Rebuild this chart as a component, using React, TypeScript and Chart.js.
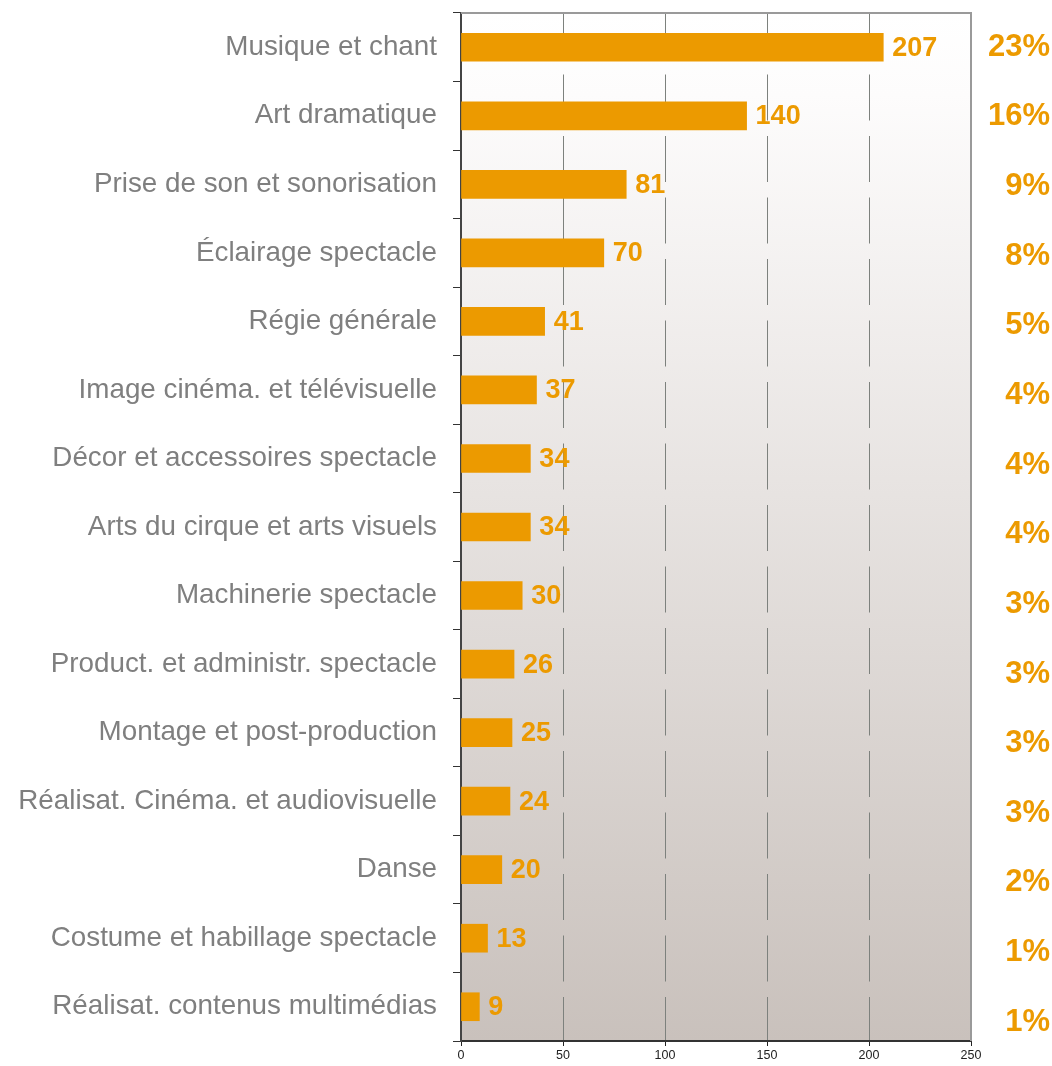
import React, { useEffect, useRef } from "react";
import { Chart, registerables } from "chart.js";

Chart.register(...registerables);

const categories = [
  "Musique et chant",
  "Art dramatique",
  "Prise de son et sonorisation",
  "Éclairage spectacle",
  "Régie générale",
  "Image cinéma. et télévisuelle",
  "Décor et accessoires spectacle",
  "Arts du cirque et arts visuels",
  "Machinerie spectacle",
  "Product. et administr. spectacle",
  "Montage et post-production",
  "Réalisat. Cinéma. et audiovisuelle",
  "Danse",
  "Costume et habillage spectacle",
  "Réalisat. contenus multimédias",
];
const values = [207, 140, 81, 70, 41, 37, 34, 34, 30, 26, 25, 24, 20, 13, 9];
const percents = ["23%", "16%", "9%", "8%", "5%", "4%", "4%", "4%", "3%", "3%", "3%", "3%", "2%", "1%", "1%"];
const xTicks = [0, 50, 100, 150, 200, 250];

const ORANGE = "#EC9A00";
const FONT = "'Liberation Sans', Arial, Helvetica, sans-serif";

const bgPlugin = {
  id: "bgPlugin",
  beforeDraw(chart: any) {
    const { ctx, chartArea } = chart;
    if (!chartArea) return;
    const g = ctx.createLinearGradient(0, chartArea.top, 0, chartArea.bottom);
    g.addColorStop(0, "#ffffff");
    g.addColorStop(0.08, "#fdfcfc");
    g.addColorStop(1, "#c9c1bc");
    ctx.save();
    ctx.fillStyle = g;
    ctx.fillRect(chartArea.left, chartArea.top, chartArea.right - chartArea.left, chartArea.bottom - chartArea.top);
    ctx.restore();
  },
  afterDraw(chart: any) {
    const { ctx, chartArea } = chart;
    ctx.save();
    ctx.strokeStyle = "#9a9a9a";
    ctx.lineWidth = 2;
    ctx.beginPath();
    ctx.moveTo(chartArea.left, chartArea.top);
    ctx.lineTo(chartArea.right, chartArea.top);
    ctx.lineTo(chartArea.right, chartArea.bottom);
    ctx.stroke();
    ctx.restore();
  },
};

const labelPlugin = {
  id: "labelPlugin",
  afterDatasetsDraw(chart: any) {
    const { ctx } = chart;
    const meta = chart.getDatasetMeta(0);
    const yScale = chart.scales.y;
    ctx.save();
    ctx.fillStyle = ORANGE;
    ctx.textBaseline = "middle";
    meta.data.forEach((bar: any, i: number) => {
      ctx.font = `bold 27px ${FONT}`;
      ctx.textAlign = "left";
      ctx.fillText(String(values[i]), bar.x + 9, bar.y + 1);
      ctx.font = `bold 31px ${FONT}`;
      ctx.textAlign = "right";
      const y = yScale.getPixelForValue(i) + i * 1.1;
      ctx.fillText(percents[i], 1050, y);
    });
    ctx.restore();
  },
};

export default function App() {
  const ref = useRef<HTMLCanvasElement | null>(null);
  useEffect(() => {
    if (!ref.current) return;
    const chart = new Chart(ref.current, {
      type: "bar",
      data: {
        labels: categories,
        datasets: [
          {
            data: values,
            backgroundColor: ORANGE,
            barThickness: 28,
            borderWidth: 0,
          },
        ],
      },
      plugins: [bgPlugin, labelPlugin],
      options: {
        indexAxis: "y",
        animation: false,
        responsive: true,
        maintainAspectRatio: false,
        layout: { padding: { top: 13, right: 81, bottom: 0, left: 0 } },
        plugins: {
          legend: { display: false },
          tooltip: { enabled: false },
        },
        scales: {
          x: {
            min: 0,
            max: 250,
            afterBuildTicks: (scale: any) => {
              scale.ticks = xTicks.map((v) => ({ value: v }));
            },
            afterFit: (scale: any) => {
              scale.height = 25;
              scale.paddingLeft = 0;
              scale.paddingRight = 0;
            },
            grid: {
              color: "#7d817d",
              lineWidth: 1,
              tickColor: "#222",
              tickLength: 5,
              drawOnChartArea: true,
            },
            border: { color: "#333", width: 2, dash: [46, 15.5], dashOffset: 0 },
            ticks: {
              color: "#222",
              font: { family: FONT, size: 12.5 },
              padding: 2,
              maxRotation: 0,
            },
          },
          y: {
            afterFit: (scale: any) => {
              scale.width = 461;
              scale.paddingTop = 0;
              scale.paddingBottom = 0;
            },
            grid: {
              offset: true,
              drawOnChartArea: false,
              color: "#333",
              tickLength: 8,
            },
            border: { color: "#444", width: 2 },
            ticks: {
              color: "#7f7f7f",
              font: { family: FONT, size: 27.8 },
              padding: 16,
              autoSkip: false,
            },
          },
        },
      },
    } as any);
    return () => chart.destroy();
  }, []);
  return (
    <div style={{ position: "absolute", left: 0, top: 0, width: 1052, height: 1066 }}>
      <canvas ref={ref} />
    </div>
  );
}
